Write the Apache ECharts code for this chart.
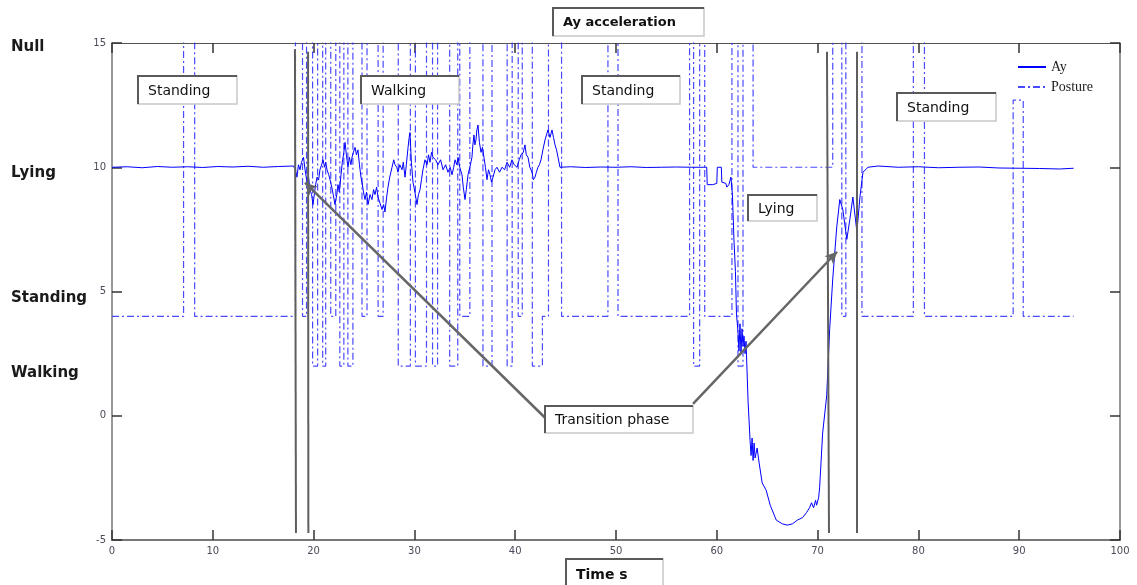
<!DOCTYPE html>
<html><head><meta charset="utf-8">
<script src="https://cdn.jsdelivr.net/npm/echarts@6/dist/echarts.min.js"></script>
<style>html,body{margin:0;padding:0;background:#fff}#c{width:1137px;height:585px}</style>
</head><body><div id="c"></div>
<script>
// ---- data ----
const xTickValues = [0, 10, 20, 30, 40, 50, 60, 70, 80, 90, 100];
const yTickValues = [-5, 0, 5, 10, 15];
const postureLevelNames = ['Null', 'Lying', 'Standing', 'Walking'];

const ayTime = [
  0, 1.5, 3, 4.5, 6, 7.5, 9, 10.5, 12, 13.5, 15, 16.5, 18,
  18.2, 18.35, 18.5, 18.65, 18.8, 19.0, 19.15, 19.35, 19.5, 19.64, 19.8, 19.94, 20.1, 20.2, 20.34,
  20.5, 20.63, 20.8, 20.93, 21.1, 21.2, 21.33, 21.5, 21.63, 21.8, 21.95, 22.12, 22.3, 22.42, 22.55,
  22.72, 22.85, 23.0, 23.12, 23.25, 23.41, 23.55, 23.7, 23.81, 23.95, 24.11, 24.25, 24.40, 24.55,
  24.7, 24.80, 24.95, 25.10, 25.25, 25.40, 25.6, 25.79, 25.95, 26.09, 26.25, 26.39, 26.55, 26.79,
  26.95, 27.08, 27.25, 27.38, 27.55, 27.78, 27.95, 28.08, 28.25, 28.37, 28.55, 28.77, 28.9, 29.07,
  29.2, 29.37, 29.48, 29.56, 29.7, 29.86, 30.05, 30.26, 30.4, 30.56, 30.7, 30.85, 31.05, 31.25,
  31.4, 31.55, 31.7, 31.85, 32.1, 32.34, 32.6, 32.84, 33.1, 33.33, 33.55, 33.73, 33.9, 34.03, 34.2,
  34.33, 34.5, 34.72, 34.85, 35.02, 35.15, 35.32, 35.5, 35.71, 35.8, 35.91, 36.0, 36.11, 36.2, 36.31,
  36.45, 36.61, 36.75, 36.90, 37.05, 37.20, 37.35, 37.50, 37.65, 37.80, 38.0, 38.19, 38.45, 38.69,
  38.95, 39.19, 39.45, 39.68, 39.9, 40.18, 40.4, 40.58, 40.8, 40.97, 41.1, 41.27, 41.45, 41.67, 41.8,
  41.96, 42.1, 42.26, 42.4, 42.56, 42.75, 42.96, 43.1, 43.25, 43.45, 43.65, 43.8, 43.95, 44.1, 44.25, 44.44,
  45.5, 47, 48.5, 50, 51.5, 53, 54.5, 56, 57.5, 59.0,
  59.05, 59.6, 60.0, 60.05, 60.45, 60.5, 60.9, 61.0, 61.2, 61.4, 61.55, 61.7, 61.85, 61.95,
  62.1, 62.2, 62.3, 62.4, 62.5, 62.6, 62.7, 62.8, 62.9, 63.1, 63.3, 63.4, 63.5, 63.6, 63.7, 63.8,
  64.0, 64.2, 64.5, 64.9, 65.3, 65.9, 66.5, 67.0, 67.5, 68.0, 68.5, 68.9, 69.2, 69.4, 69.6, 69.8,
  69.9, 70.1, 70.2, 70.5, 70.9, 71.2, 71.5, 71.9, 72.2, 72.5, 72.9, 73.2, 73.5, 73.9, 74.2, 74.5,
  75.0, 76, 78, 80, 82, 84, 86, 88, 90, 92, 94, 95.4
];
const ayValue = [
  10.0, 10.02, 9.98, 10.03, 10.0, 10.02, 9.99, 10.03, 10.01, 10.04, 10.0, 10.03, 10.05,
  9.9, 9.6, 10.1, 9.9, 10.2, 10.4, 9.9, 9.4, 9.6, 9.1, 8.9, 8.5, 9.0, 9.3, 9.6,
  9.5, 9.9, 10.1, 10.3, 10.0, 10.2, 9.9, 9.7, 9.5, 9.2, 8.9, 8.5, 8.9, 9.3, 9.0,
  9.7, 10.2, 10.6, 11.0, 10.5, 10.0, 10.4, 10.1, 10.4, 10.6, 10.8, 10.5, 10.7, 10.1,
  9.6, 9.4, 9.0, 8.7, 9.0, 8.5, 8.9, 8.7, 9.1, 8.9, 9.2, 8.8, 8.6, 8.3,
  8.5, 8.2, 8.8, 9.2, 9.6, 10.0, 10.3, 10.1, 10.0, 9.8, 10.1, 9.9, 10.2, 9.6,
  10.1, 10.8, 11.2, 11.4, 10.2, 9.4, 9.0, 8.5, 8.9, 9.1, 9.5, 9.9, 10.3, 10.1,
  10.5, 10.2, 10.6, 10.4, 10.3, 10.1, 10.3, 9.9, 10.1, 9.8, 10.0, 9.7, 10.0, 10.3, 10.1,
  10.4, 10.0, 9.7, 9.2, 8.7, 9.1, 9.7, 10.0, 10.4, 10.9, 11.3, 10.9, 11.1, 11.5, 11.7,
  11.0, 10.6, 10.8, 10.4, 10.0, 9.5, 9.9, 9.7, 9.4, 9.6, 9.9, 10.0, 9.8, 10.0,
  9.9, 10.2, 10.0, 10.3, 10.1, 10.0, 10.3, 10.5, 10.6, 10.9, 10.5, 10.4, 10.0, 9.8, 9.5,
  9.6, 9.8, 10.0, 10.1, 10.3, 10.7, 11.1, 11.3, 11.5, 11.2, 11.5, 11.2, 10.9, 10.7, 10.4, 10.0,
  10.02, 9.99, 10.01, 10.0, 10.02, 9.99, 10.0, 10.01, 10.0, 10.0,
  9.3, 9.3, 9.35, 10.0, 10.0, 9.4, 9.35, 9.2, 9.3, 9.6, 8.9, 7.1, 5.8, 4.1,
  3.4, 2.6, 3.7, 2.5, 3.5, 2.8, 3.2, 2.5, 3.0, 0.6, -1.0, -1.6, -0.9, -1.8, -1.1, -1.7,
  -1.3, -1.9, -2.7, -3.0, -3.6, -4.2, -4.35, -4.4, -4.35, -4.2, -4.1, -3.9, -3.7, -3.5, -3.7, -3.4,
  -3.6, -3.3, -2.9, -0.7, 0.8, 3.5, 5.5, 7.6, 8.7, 8.3, 7.1, 7.9, 8.8, 7.4, 8.8, 9.8,
  10.0, 10.05, 10.0, 10.02, 9.98, 10.0, 10.01, 9.97, 9.96, 9.95, 9.93, 9.96
];

// posture: value held from each time until the next one (16 = Null, drawn off the top)
const postureTime = [0, 7.1, 8.2, 18.2, 18.9, 19.3, 19.9, 20.4, 20.9, 21.2, 21.7, 22.2, 22.6, 23.0, 23.4,
  23.9, 24.8, 25.3, 26.4, 26.9, 28.4, 29.6, 30.1, 31.2, 31.8, 32.3, 33.5, 34.3, 34.5, 35.5, 36.8, 37.7,
  39.2, 39.7, 40.3, 40.7, 41.7, 42.7, 43.3, 44.6, 49.2, 50.2, 57.3, 57.7, 58.3, 58.8, 61.5, 62.1, 62.6,
  63.6, 71.5, 72.4, 72.8, 74.4, 79.5, 80.6, 89.4, 90.4, 95.4];
const postureValue = [4, 16, 4, 16, 4, 16, 2, 16, 2, 16, 4, 16, 2, 16, 2,
  16, 4, 16, 4, 16, 2, 16, 2, 16, 2, 16, 2, 16, 4, 16, 2, 16,
  2, 16, 4, 16, 2, 4, 16, 4, 16, 4, 16, 2, 16, 4, 16, 2, 16,
  10, 16, 4, 16, 4, 16, 4, 12.7, 4, 4];

// annotation lines (data coordinates)
const phaseLines = [
  [[18.15, 14.75], [18.25, -4.72]],
  [[19.45, 14.65], [19.48, -4.72]],
  [[70.93, 14.65], [71.13, -4.72]],
  [[73.9, 14.65], [73.9, -4.72]]
];
const arrowLines = [
  [[42.96, -0.08], [19.15, 9.38]],
  [[57.64, 0.48], [71.93, 6.6]]
];

// ---- chart ----
const chart = echarts.init(document.getElementById('c'), null, {renderer: 'canvas'});
const ayData = ayTime.map((t, i) => [t, ayValue[i]]);
const postureData = postureTime.map((t, i) => [t, postureValue[i]]);

function box(x, y, w, h, text, font) {
  return {
    type: 'group', x: x, y: y, z: 100,
    children: [
      {type: 'rect', shape: {x: 0, y: 0, width: w, height: h}, style: {fill: '#fff', stroke: '#c8c8c8', lineWidth: 1.5}, z: 100},
      {type: 'polyline', shape: {points: [[0, h], [0, 0], [w, 0]]}, style: {stroke: '#5a5a5a', lineWidth: 2, fill: null}, z: 101},
      {type: 'text', x: 10, y: h / 2 + 1, style: {text: text, font: font, fill: '#111', verticalAlign: 'middle'}, z: 102}
    ]
  };
}
const boxFont = '14px "DejaVu Sans"';
const leftLabelY = [47, 173, 298, 373];

const graphics = [
  box(138, 76, 99, 28, 'Standing', boxFont),
  box(361, 76, 98, 28, 'Walking', boxFont),
  box(582, 76, 98, 28, 'Standing', boxFont),
  box(748, 195, 69, 26, 'Lying', boxFont),
  box(897, 93, 99, 28, 'Standing', boxFont),
  box(545, 406, 148, 27, 'Transition phase', boxFont),
  box(553, 8, 151, 28, 'Ay acceleration', 'bold 13px "DejaVu Sans"'),
  box(566, 559, 97, 30, 'Time s', 'bold 14px "DejaVu Sans"')
];
postureLevelNames.forEach((n, i) => {
  graphics.push({type: 'text', x: 11, y: leftLabelY[i], z: 100,
    style: {text: n, font: 'bold 15px "DejaVu Sans"', fill: '#1a1a1a', verticalAlign: 'middle'}});
});

const tickStyle = {show: true, inside: true, length: 10, lineStyle: {color: '#333', width: 1.5}};

chart.setOption({
  animation: false,
  backgroundColor: '#fff',
  grid: {left: 112, right: 17, top: 43, bottom: 45},
  legend: {
    orient: 'vertical', left: 1012, top: 55, itemWidth: 28, itemHeight: 12, itemGap: 6,
    itemStyle: {opacity: 0},
    textStyle: {fontFamily: 'Liberation Serif', fontSize: 14, color: '#222'},
    data: ['Ay', 'Posture']
  },
  xAxis: [{
    type: 'value', min: 0, max: 100, interval: 10,
    axisLine: {show: true, onZero: false, lineStyle: {color: '#777', width: 2}},
    axisTick: tickStyle,
    axisLabel: {fontFamily: 'DejaVu Sans', fontSize: 10, color: '#4a4a5a', margin: 6},
    splitLine: {show: false}
  }, {
    type: 'value', position: 'top', min: 0, max: 100, interval: 10,
    axisLine: {show: true, onZero: false, lineStyle: {color: '#555', width: 1}},
    axisTick: tickStyle, axisLabel: {show: false}, splitLine: {show: false}
  }],
  yAxis: [{
    type: 'value', min: -5, max: 15, interval: 5,
    axisLine: {show: true, onZero: false, lineStyle: {color: '#999', width: 2}},
    axisTick: tickStyle,
    axisLabel: {fontFamily: 'DejaVu Sans', fontSize: 10, color: '#4a4a5a', margin: 6},
    splitLine: {show: false}
  }, {
    type: 'value', position: 'right', min: -5, max: 15, interval: 5,
    axisLine: {show: true, onZero: false, lineStyle: {color: '#777', width: 1.5}},
    axisTick: tickStyle, axisLabel: {show: false}, splitLine: {show: false}
  }],
  series: [{
    name: 'Ay', type: 'line', data: ayData, symbol: 'none', showSymbol: false, clip: true, z: 3,
    lineStyle: {color: '#0000ff', width: 1},
    itemStyle: {color: '#0000ff'},
    markLine: {
      silent: true, symbol: ['none', 'none'], label: {show: false}, animation: false,
      lineStyle: {color: '#5e5e5e', width: 2, type: 'solid'},
      data: phaseLines.map(l => [{coord: l[0]}, {coord: l[1]}])
    }
  }, {
    name: 'Posture', type: 'line', step: 'end', data: postureData, symbol: 'none', showSymbol: false, clip: true, z: 2,
    lineStyle: {color: '#2a2aff', width: 1.2, type: [7, 3, 2, 3], opacity: 0.85},
    itemStyle: {color: '#2a2aff'},
    markLine: {
      silent: true, symbol: ['none', 'arrow'], symbolSize: [9, 12], label: {show: false}, animation: false,
      lineStyle: {color: '#666', width: 2.5, type: 'solid', opacity: 1},
      itemStyle: {color: '#666'},
      data: arrowLines.map(l => [{coord: l[0]}, {coord: l[1]}])
    }
  }],
  graphic: graphics
});
</script>
</body></html>
